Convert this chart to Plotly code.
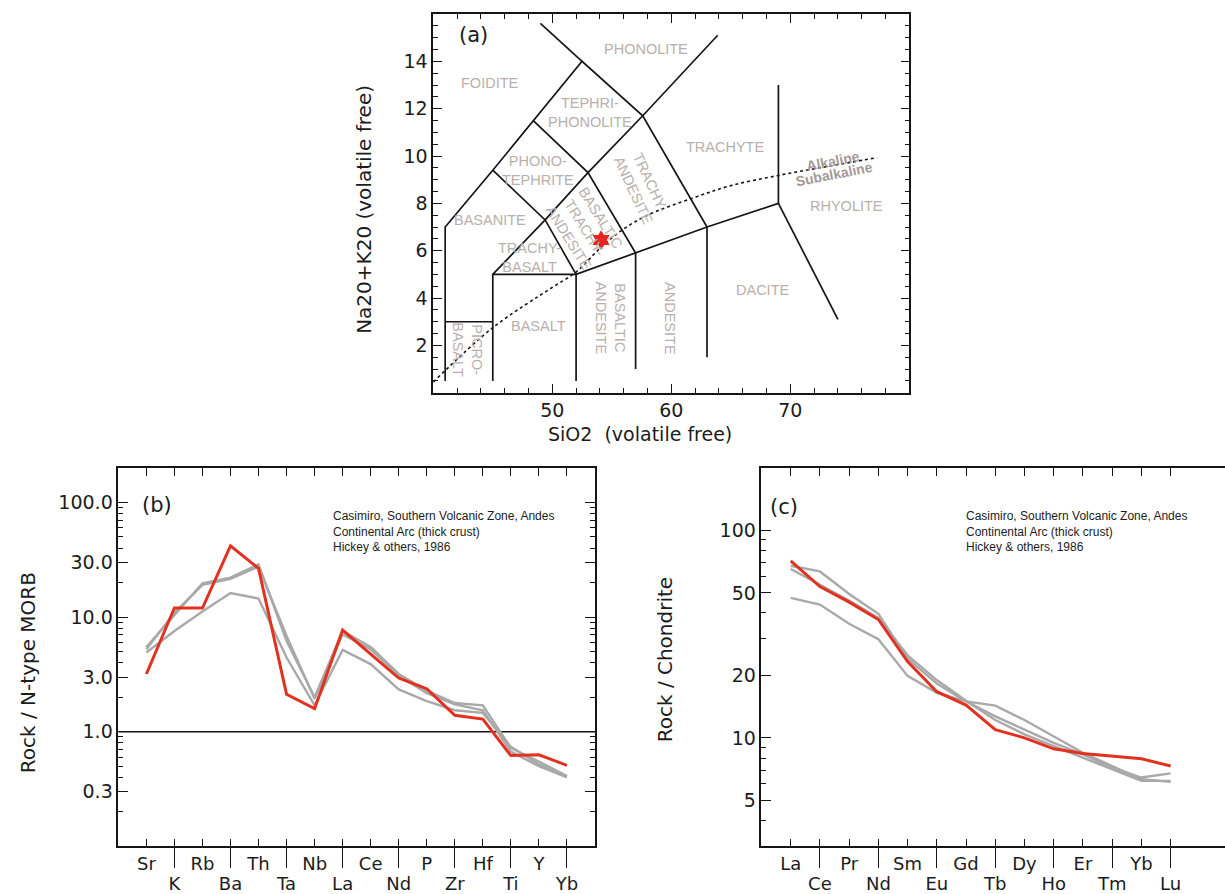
import math
import plotly.graph_objects as go

# ================= (a) TAS diagram data =================
TAS_BOUNDARIES = [
    [(41, 0.5), (41, 7), (45, 9.4), (48.4, 11.5), (52.5, 14), (57.6, 11.7), (63, 7), (63, 1.5)],
    [(52.5, 14), (49, 15.6)],
    [(41, 3), (45, 3)],
    [(45, 0.5), (45, 5), (52, 5), (57, 5.9), (63, 7), (69, 8), (69, 13)],
    [(52, 0.5), (52, 5)],
    [(57, 1.0), (57, 5.9), (53, 9.3), (48.4, 11.5)],
    [(52, 5), (49.4, 7.3), (45, 9.4)],
    [(45, 5), (49.4, 7.3), (53, 9.3), (57.6, 11.7), (63.9, 15.1)],
    [(69, 8), (74, 3.1)],
]
ALK_SIO2 = [40, 45, 50, 52, 54, 55.8, 58, 61.85, 65, 69, 73, 77.3]
ALK_TOTAL = [0.45, 2.75, 4.45, 5.1, 6.1, 6.85, 7.5, 8.23, 8.75, 9.18, 9.55, 9.93]
SAMPLE_SIO2 = [54.1]
SAMPLE_TOTAL = [6.45]
TAS_FIELDS = [
    ("FOIDITE", 44.8, 13.1, 0),
    ("PHONOLITE", 57.9, 14.5, 0),
    ("TEPHRI-<br>PHONOLITE", 53.2, 11.85, 0),
    ("PHONO-<br>TEPHRITE", 48.8, 9.4, 0),
    ("BASANITE", 44.8, 7.3, 0),
    ("TRACHY-<br>BASALT", 48.1, 5.7, 0),
    ("BASALTIC<br>TRACHY-<br>ANDESITE", 52.7, 6.95, 58),
    ("TRACHY-<br>ANDESITE", 57.5, 8.7, 65),
    ("TRACHYTE", 64.5, 10.4, 0),
    ("BASALT", 48.8, 2.8, 0),
    ("PICRO-<br>BASALT", 42.9, 1.8, 90),
    ("BASALTIC<br>ANDESITE", 54.9, 3.15, 90),
    ("ANDESITE", 59.9, 3.15, 90),
    ("DACITE", 67.7, 4.35, 0),
    ("RHYOLITE", 74.7, 7.9, 0),
]
SERIES_LABELS = [("<b>Alkaline</b>", 73.6, 9.8), ("<b>Subalkaline</b>", 73.7, 9.25)]
TAS_X_RANGE = [40, 80]
TAS_Y_RANGE = [0, 16]
TAS_X_TICKS = [50, 60, 70]
TAS_Y_TICKS = [2, 4, 6, 8, 10, 12, 14]

# ================= (b) N-MORB normalised =================
MORB_ELEMENTS = ["Sr", "K", "Rb", "Ba", "Th", "Ta", "Nb", "La", "Ce", "Nd", "P", "Zr", "Hf", "Ti", "Y", "Yb"]
MORB_RED = [3.19, 12.0, 12.0, 41.8, 26.6, 2.12, 1.59, 7.7, 4.75, 2.94, 2.37, 1.39, 1.29, 0.62, 0.63, 0.51]
MORB_GRAY_1 = [5.49, 10.5, 19.7, 22.1, 28.8, 6.19, 2.0, 7.55, 5.49, 3.19, 2.29, 1.78, 1.70, 0.72, 0.55, 0.41]
MORB_GRAY_2 = [4.91, 7.55, 11.2, 16.2, 14.5, 4.44, 1.70, 5.17, 3.89, 2.34, 1.85, 1.54, 1.46, 0.74, 0.52, 0.41]
MORB_GRAY_3 = [5.24, 10.9, 19.1, 21.5, 27.5, 6.84, 1.94, 7.06, 5.24, 3.09, 2.17, 1.73, 1.54, 0.67, 0.50, 0.40]
MORB_TICKS = [0.3, 1, 3, 10, 30, 100]
MORB_TICK_TEXT = ["0.3", "1.0", "3.0", "10.0", "30.0", "100.0"]
MORB_Y_RANGE = [0.1, 200]
MORB_REF_LEVEL = 1.0

# ================= (c) Chondrite normalised REE =================
REE_ELEMENTS = ["La", "Ce", "Pr", "Nd", "Sm", "Eu", "Gd", "Tb", "Dy", "Ho", "Er", "Tm", "Yb", "Lu"]
REE_RED = [71.3, 53.6, 45.1, 37.2, 23.3, 16.7, 14.4, 10.96, 10.0, 8.86, 8.41, 8.17, 7.94, 7.32]
REE_GRAY_1 = [67.5, 63.4, 49.4, 39.6, 24.1, 18.3, 15.0, 12.7, 10.96, 9.46, 8.32, 7.18, 6.44, 6.75]
REE_GRAY_2 = [65.1, 54.7, 45.9, 37.9, 25.0, 19.0, 15.1, 12.2, 10.4, 9.12, 8.02, 7.05, 6.21, 6.21]
REE_GRAY_3 = [47.3, 43.9, 35.5, 29.9, 19.9, 16.5, 15.0, 14.3, 12.2, 10.2, 8.48, 7.32, 6.32, 6.14]
REE_TICKS = [5, 10, 20, 50, 100]
REE_TICK_TEXT = ["5", "10", "20", "50", "100"]
REE_Y_RANGE = [3, 200]

SOURCE_TEXT = ("Casimiro, Southern Volcanic Zone, Andes<br>"
               "Continental Arc (thick crust)<br>Hickey &amp; others, 1986")

# ================= styles =================
FONT = "DejaVu Sans"
AXC = "#151515"
RED = "#e2321f"
GRAY = "#a9a9a9"
FIELD_COLOR = "#b9afad"
TXT = "#1c1c1c"


def log_minor(lo, hi):
    vals = []
    for e in range(-2, 4):
        for k in range(1, 10):
            v = k * 10 ** e
            if lo * 0.999 <= v <= hi * 1.001:
                vals.append(round(v, 6))
    return vals


def label_map(vals, majors, texts):
    m = {round(a, 6): t for a, t in zip(majors, texts)}
    return [m.get(round(v, 6), "") for v in vals]


fig = go.Figure()

# ---- (a) traces ----
bx, by = [], []
for seg in TAS_BOUNDARIES:
    for sx, ty in seg:
        bx.append(sx)
        by.append(ty)
    bx.append(None)
    by.append(None)
fig.add_trace(go.Scatter(x=bx, y=by, mode="lines", line=dict(color=AXC, width=1.7),
                         xaxis="x", yaxis="y", hoverinfo="skip"))
fig.add_trace(go.Scatter(x=ALK_SIO2, y=ALK_TOTAL, mode="lines",
                         line=dict(color=AXC, width=1.6, dash="dot", shape="spline"),
                         xaxis="x", yaxis="y"))
fig.add_trace(go.Scatter(x=SAMPLE_SIO2, y=SAMPLE_TOTAL, mode="markers",
                         marker=dict(symbol="hexagram", size=15, color="#e8241c", line=dict(width=0)),
                         xaxis="x", yaxis="y"))

# ---- (b) traces ----
b_idx = list(range(len(MORB_ELEMENTS)))
B_X_RANGE = [-1, len(MORB_ELEMENTS)]
fig.add_trace(go.Scatter(x=B_X_RANGE, y=[MORB_REF_LEVEL, MORB_REF_LEVEL], mode="lines",
                         line=dict(color=AXC, width=1.6), xaxis="x2", yaxis="y2"))
for series in (MORB_GRAY_1, MORB_GRAY_2, MORB_GRAY_3):
    fig.add_trace(go.Scatter(x=b_idx, y=series, mode="lines", line=dict(color=GRAY, width=2.4),
                             xaxis="x2", yaxis="y2"))
fig.add_trace(go.Scatter(x=b_idx, y=MORB_RED, mode="lines", line=dict(color=RED, width=3),
                         xaxis="x2", yaxis="y2"))

# ---- (c) traces ----
c_idx = list(range(len(REE_ELEMENTS)))
C_X_RANGE = [-1, 14.86]
for series in (REE_GRAY_1, REE_GRAY_2, REE_GRAY_3):
    fig.add_trace(go.Scatter(x=c_idx, y=series, mode="lines", line=dict(color=GRAY, width=2.4),
                             xaxis="x4", yaxis="y3"))
fig.add_trace(go.Scatter(x=c_idx, y=REE_RED, mode="lines", line=dict(color=RED, width=3),
                         xaxis="x4", yaxis="y3"))

# empty traces so every overlay axis gets drawn
for xa, ya in (("x3", "y2"), ("x5", "y3"), ("x6", "y"), ("x", "y6"), ("x2", "y4"), ("x4", "y5")):
    fig.add_trace(go.Scatter(x=[], y=[], xaxis=xa, yaxis=ya))


def ax(**kw):
    base = dict(showline=True, linecolor=AXC, linewidth=1.6, mirror="ticks", ticks="inside",
                tickcolor=AXC, tickwidth=1.4, showgrid=False, zeroline=False,
                tickfont=dict(family=FONT, size=19, color=TXT))
    base.update(kw)
    return base


def overlay(**kw):
    base = dict(showline=True, linecolor=AXC, linewidth=1.6, showgrid=False, zeroline=False,
                ticks="inside", tickcolor=AXC, tickwidth=1.4, showticklabels=False)
    base.update(kw)
    return base


B_DOM_Y = [0.0436, 0.4713]
b_even_text = [n if i % 2 == 0 else "" for i, n in enumerate(MORB_ELEMENTS)]
c_even_text = [n if i % 2 == 0 else "" for i, n in enumerate(REE_ELEMENTS)]
b_odd = [i for i in b_idx if i % 2 == 1]
c_odd = [i for i in c_idx if i % 2 == 1]

tas_x_minor = list(range(TAS_X_RANGE[0], TAS_X_RANGE[1] + 1, 2))
tas_y_minor = [i * 0.5 for i in range(int(TAS_Y_RANGE[1] * 2) + 1)]
morb_minor = log_minor(*MORB_Y_RANGE)
ree_minor = log_minor(*REE_Y_RANGE)
CAT_FONT = dict(family=FONT, size=18, color=TXT)
morb_log = [math.log10(v) for v in MORB_Y_RANGE]
ree_log = [math.log10(v) for v in REE_Y_RANGE]

fig.update_layout(
    width=1225, height=894, margin=dict(l=0, r=0, t=0, b=0),
    paper_bgcolor="white", plot_bgcolor="white", showlegend=False,
    # (a)
    xaxis=ax(domain=[0.3537, 0.7423], range=TAS_X_RANGE, anchor="y", tickvals=tas_x_minor,
             ticktext=label_map(tas_x_minor, TAS_X_TICKS, [str(v) for v in TAS_X_TICKS]), ticklen=5),
    xaxis6=overlay(overlaying="x", anchor="y", range=TAS_X_RANGE, tickvals=TAS_X_TICKS, ticklen=9, mirror="ticks"),
    yaxis=ax(domain=[0.5562, 0.9842], range=TAS_Y_RANGE, anchor="x", tickvals=tas_y_minor,
             ticktext=label_map(tas_y_minor, TAS_Y_TICKS, [str(v) for v in TAS_Y_TICKS]), ticklen=5),
    yaxis6=overlay(overlaying="y", anchor="x", range=TAS_Y_RANGE, tickvals=TAS_Y_TICKS, ticklen=9, mirror="ticks"),
    # (b)
    xaxis2=ax(domain=[0.0966, 0.4857], range=B_X_RANGE, anchor="y2",
              tickvals=b_idx, ticktext=b_even_text, ticklen=8, tickfont=CAT_FONT),
    xaxis3=overlay(overlaying="x2", anchor="y2", side="bottom", range=B_X_RANGE, showline=False,
                   tickvals=b_odd, ticktext=[MORB_ELEMENTS[i] for i in b_odd], showticklabels=True,
                   ticks="outside", ticklen=21, tickfont=CAT_FONT),
    yaxis2=ax(domain=B_DOM_Y, type="log", range=morb_log, anchor="x2",
              tickvals=morb_minor, ticktext=label_map(morb_minor, MORB_TICKS, MORB_TICK_TEXT), ticklen=5),
    yaxis4=overlay(overlaying="y2", anchor="x2", type="log", range=morb_log, tickvals=MORB_TICKS,
                   ticklen=10, mirror="ticks"),
    # (c)
    xaxis4=ax(domain=[0.6216, 1.0], range=C_X_RANGE, anchor="y3",
              tickvals=c_idx, ticktext=c_even_text, ticklen=8, tickfont=CAT_FONT),
    xaxis5=overlay(overlaying="x4", anchor="y3", side="bottom", range=C_X_RANGE, showline=False,
                   tickvals=c_odd, ticktext=[REE_ELEMENTS[i] for i in c_odd], showticklabels=True,
                   ticks="outside", ticklen=21, tickfont=CAT_FONT),
    yaxis3=ax(domain=B_DOM_Y, type="log", range=ree_log, anchor="x4", mirror=False,
              tickvals=ree_minor, ticktext=label_map(ree_minor, REE_TICKS, REE_TICK_TEXT), ticklen=5),
    yaxis5=overlay(overlaying="y3", anchor="x4", type="log", range=ree_log, tickvals=REE_TICKS,
                   ticklen=10, mirror=False),
)

ann = []
for label, sx, ty, ang in TAS_FIELDS:
    ann.append(dict(x=sx, y=ty, xref="x", yref="y", text=label, showarrow=False, textangle=ang,
                    font=dict(family="Liberation Sans", size=14.5, color=FIELD_COLOR)))
for label, sx, ty in SERIES_LABELS:
    ann.append(dict(x=sx, y=ty, xref="x", yref="y", text=label, showarrow=False, textangle=-11,
                    font=dict(family="Liberation Sans", size=14, color="#a29a98")))


def note(text, x, y, xref, yref, size, xanchor="center", angle=0, family=FONT, align="center"):
    return dict(x=x, y=y, xref=xref, yref=yref, text=text, showarrow=False, xanchor=xanchor,
                yanchor="middle", textangle=angle, align=align,
                font=dict(family=family, size=size, color=TXT))


ann += [
    note("(a)", 0.05, 0.945, "x domain", "y domain", 21, xanchor="left"),
    note("(b)", 0.045, 0.902, "x2 domain", "y2 domain", 21, xanchor="left"),
    note("(c)", 0.014, 0.897, "x4 domain", "y3 domain", 21, xanchor="left"),
    note(SOURCE_TEXT, 0.446, 0.832, "x2 domain", "y2 domain", 12, xanchor="left",
         family="Liberation Sans", align="left"),
    note(SOURCE_TEXT, 0.437, 0.832, "x4 domain", "y3 domain", 12, xanchor="left",
         family="Liberation Sans", align="left"),
    note("Na20+K20 (volatile free)", 364 / 1225, 1 - 212 / 894, "paper", "paper", 20, angle=-90),
    note("SiO2  (volatile free)", 640 / 1225, 1 - 438 / 894, "paper", "paper", 19),
    note("Rock / N-type MORB", 28 / 1225, 1 - 680 / 894, "paper", "paper", 20, angle=-90),
    note("Rock / Chondrite", 665 / 1225, 1 - 667 / 894, "paper", "paper", 20, angle=-90),
]
fig.update_layout(annotations=ann)

fig.write_html("out.html")
